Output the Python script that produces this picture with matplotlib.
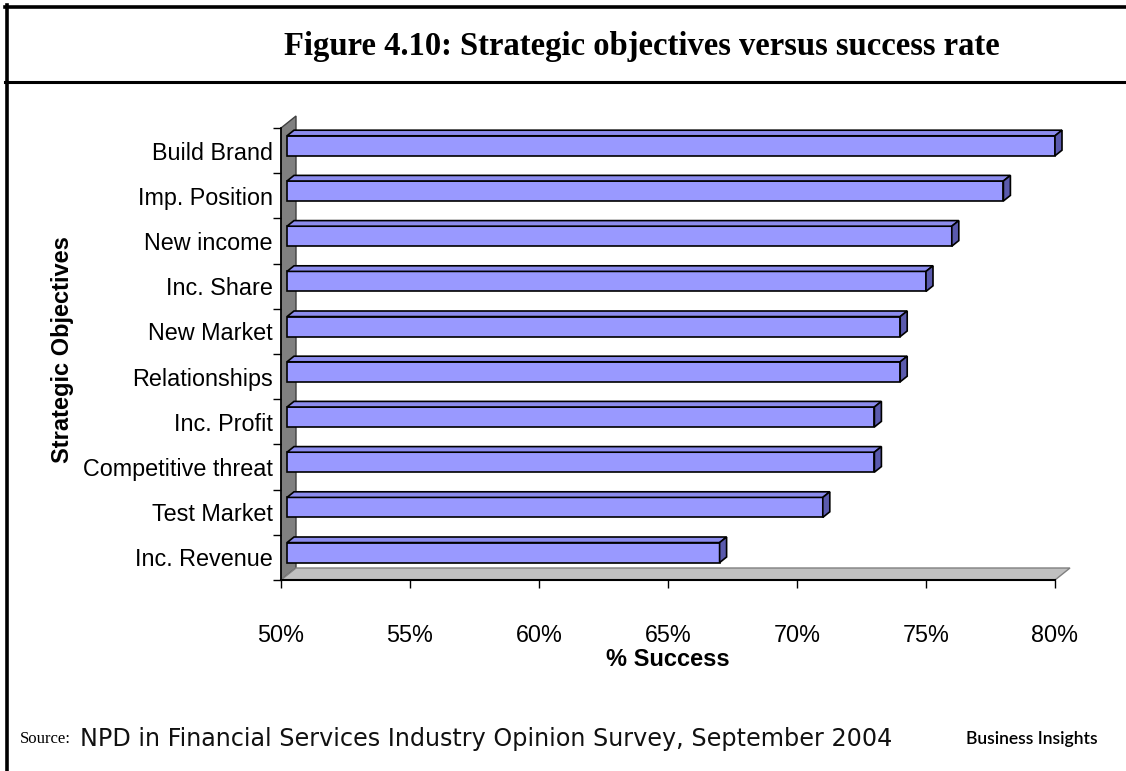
import matplotlib.pyplot as plt
from matplotlib.patches import Polygon
from matplotlib.lines import Line2D

# Success rate (%) by strategic objective, bottom to top
objectives = ["Inc. Revenue", "Test Market", "Competitive threat", "Inc. Profit",
              "Relationships", "New Market", "Inc. Share", "New income",
              "Imp. Position", "Build Brand"]
success = [67, 71, 73, 73, 74, 74, 75, 76, 78, 80]
x_ticks = [50, 55, 60, 65, 70, 75, 80]

W, H = 1126, 771
DPI = 100
fig = plt.figure(figsize=(W / DPI, H / DPI), dpi=DPI)

# page frame and caption, in pixel coordinates
page = fig.add_axes([0, 0, 1, 1])
page.set_xlim(0, W)
page.set_ylim(H, 0)
page.axis("off")
page.add_line(Line2D([6.5, 6.5], [5, H], color="black", lw=2.6))
page.add_line(Line2D([5, W], [6.5, 6.5], color="black", lw=2.6))
page.add_line(Line2D([5, W], [82, 82], color="black", lw=2.2))
page.text(642, 46, "Figure 4.10: Strategic objectives versus success rate",
          ha="center", va="center", fontsize=23.5, fontweight="bold",
          family="Liberation Serif")
page.text(20, 739, "Source:", ha="left", va="center", fontsize=12,
          family="Liberation Serif")
page.text(80, 739, "NPD in Financial Services Industry Opinion Survey, September 2004",
          ha="left", va="center", fontsize=17.2, family="DejaVu Sans",
          color="#111111")
page.text(1098, 739, "Business Insights", ha="right", va="center",
          fontsize=12.6, family="Lato", fontweight="semibold")

# chart axes: front plane of the 3D box
x0, x1, y_top, y_bot = 281, 1055, 128, 580
ax = fig.add_axes([x0 / W, (H - y_bot) / H, (x1 - x0) / W, (y_bot - y_top) / H])
ax.set_xlim(50, 80)
ax.set_ylim(-0.5, len(objectives) - 0.5)
ax.patch.set_visible(False)

# pixel -> data unit conversion for depth offsets
px_x = (x1 - x0) / 30.0
px_y = (y_bot - y_top) / len(objectives)


def off(dx, dy):
    return dx / px_x, dy / px_y


wall_d = off(15, 12)
n = len(objectives)

# back wall (left) and floor
wall = Polygon([(50, -0.5), (50, n - 0.5), (50 + wall_d[0], n - 0.5 + wall_d[1]),
                (50 + wall_d[0], -0.5 + wall_d[1])],
               closed=True, facecolor="#808080", edgecolor="#404040", lw=1,
               clip_on=False, zorder=1)
floor = Polygon([(50, -0.5), (80, -0.5), (80 + wall_d[0], -0.5 + wall_d[1]),
                 (50 + wall_d[0], -0.5 + wall_d[1])],
                closed=True, facecolor="#c0c0c0", edgecolor="#808080", lw=1,
                clip_on=False, zorder=1)
ax.add_patch(wall)
ax.add_patch(floor)

# 3D bars: front face, top face, right end face
fx, fy = off(6, 4.8)
sx, sy = off(7, 5.6)
half = 10 / px_y
for i, v in enumerate(success):
    b, t = i - half + fy, i + half + fy
    l, r = 50 + fx, v
    front = Polygon([(l, b), (r, b), (r, t), (l, t)], closed=True,
                    facecolor="#9999ff", edgecolor="black", lw=1.2, zorder=3,
                    clip_on=False)
    top = Polygon([(l, t), (r, t), (r + sx, t + sy), (l + sx, t + sy)], closed=True,
                  facecolor="#8c8cee", edgecolor="black", lw=1.2, zorder=3,
                  clip_on=False)
    side = Polygon([(r, b), (r + sx, b + sy), (r + sx, t + sy), (r, t)], closed=True,
                   facecolor="#5a5aad", edgecolor="black", lw=1.2, zorder=3,
                   clip_on=False)
    for p in (front, top, side):
        ax.add_patch(p)

for s in ("top", "right"):
    ax.spines[s].set_visible(False)
ax.spines["left"].set_linewidth(1.2)
ax.spines["bottom"].set_linewidth(1.5)
ax.spines["left"].set_zorder(2)
ax.spines["bottom"].set_zorder(2)

ax.set_xticks(x_ticks)
ax.set_xticklabels([f"{t}%" for t in x_ticks], fontsize=16.8, family="Liberation Sans")
ax.tick_params(axis="x", length=6, width=1, pad=26)

ax.set_yticks(range(n))
ax.set_yticklabels(objectives, fontsize=16.8, family="Liberation Sans")
ax.set_yticks([k - 0.5 for k in range(n + 1)], minor=True)
ax.tick_params(axis="y", which="major", length=0, pad=6)
ax.tick_params(axis="y", which="minor", length=6, width=1)

ax.set_xlabel("% Success", fontsize=17, fontweight="bold",
              family="Liberation Sans", va="center")
ax.xaxis.set_label_coords(0.5, (y_bot - 659) / (y_bot - y_top))
ax.set_ylabel("Strategic Objectives", fontsize=17, fontweight="bold",
              family="Liberation Sans", va="center")
ax.yaxis.set_label_coords((63 - x0) / (x1 - x0), (y_bot - 350) / (y_bot - y_top))

fig.savefig("out.png", dpi=DPI)
